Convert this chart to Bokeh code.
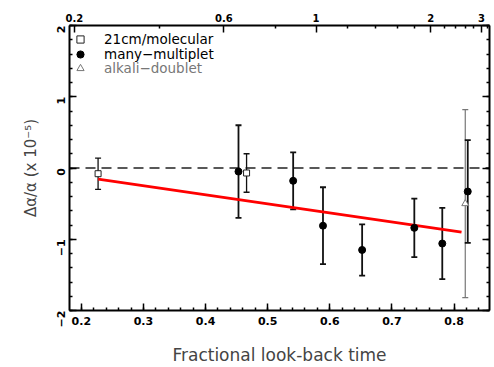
import math
from bokeh.plotting import figure
from bokeh.models import (Range1d, LinearAxis, SingleIntervalTicker, FixedTicker,
                          Whisker, ColumnDataSource, Span, Legend, LegendItem, TeeHead)
from bokeh.embed import file_html
from bokeh.resources import INLINE

# ---- data ----
mol_x = [0.227, 0.466]
mol_y = [-0.08, -0.07]
mol_err = [0.22, 0.27]

mm_x = [0.453, 0.541, 0.589, 0.652, 0.736, 0.781, 0.822]
mm_y = [-0.05, -0.18, -0.81, -1.15, -0.84, -1.06, -0.33]
mm_err = [0.65, 0.40, 0.54, 0.36, 0.41, 0.50, 0.72]

alk_x = [0.818]
alk_y = [-0.50]
alk_err = [1.32]

fit_x = [0.227, 0.812]
fit_y = [-0.156, -0.90]

# top axis: redshift labels at look-back-time positions
top_major_pos = [0.189, 0.4296, 0.5778, 0.7625, 0.8441]
top_major_lab = ["0.2", "0.6", "1", "2", "3"]
top_minor_pos = [0.3266, 0.5129, 0.6288, 0.6728, 0.7089, 0.7367,
                 0.785, 0.8027, 0.818, 0.8317, 0.8538]

FONT = "DejaVu Sans"

p = figure(width=494, height=367, output_backend="svg", toolbar_location=None,
           x_range=Range1d(0.181, 0.857), y_range=Range1d(-2, 2),
           min_border_left=69, min_border_right=5, min_border_top=25,
           min_border_bottom=57)
p.outline_line_color = None
p.xgrid.visible = False
p.ygrid.visible = False
p.background_fill_color = "white"
p.border_fill_color = "white"


def style_axis(ax):
    ax.axis_line_width = 2
    ax.axis_line_color = "black"
    ax.major_tick_in = 7
    ax.major_tick_out = 0
    ax.minor_tick_in = 3
    ax.minor_tick_out = 0
    ax.major_tick_line_width = 1.5
    ax.minor_tick_line_width = 1.5
    ax.major_tick_line_color = "black"
    ax.minor_tick_line_color = "black"
    ax.major_label_text_font = FONT
    ax.major_label_text_font_style = "bold"
    ax.major_label_text_font_size = "11px"
    ax.major_label_text_color = "black"


# bottom axis
xa = p.xaxis[0]
xa.ticker = SingleIntervalTicker(interval=0.1, num_minor_ticks=5)
style_axis(xa)
xa.major_label_standoff = 6
xa.axis_label = "Fractional look-back time"
xa.axis_label_text_font = FONT
xa.axis_label_text_font_style = "normal"
xa.axis_label_text_font_size = "17px"
xa.axis_label_standoff = 17

# left axis
ya = p.yaxis[0]
ya.ticker = SingleIntervalTicker(interval=1, num_minor_ticks=5)
style_axis(ya)
ya.major_label_orientation = math.pi / 2
ya.major_label_overrides = {-2: "\u22122", -1: "\u22121"}
ya.major_label_standoff = 9
ya.axis_label = "\u0394\u03b1/\u03b1 (x 10\u207b\u2075)"
ya.axis_label_text_font = FONT
ya.axis_label_text_font_style = "normal"
ya.axis_label_text_font_size = "15px"
ya.axis_label_standoff = 10

# right axis (ticks only)
ra = LinearAxis(ticker=SingleIntervalTicker(interval=1, num_minor_ticks=5))
style_axis(ra)
ra.major_label_overrides = {-2: "", -1: "", 0: "", 1: "", 2: ""}
ra.major_label_standoff = 0
p.add_layout(ra, "right")

# top axis (redshift)
ta = LinearAxis(ticker=FixedTicker(ticks=top_major_pos, minor_ticks=top_minor_pos))
style_axis(ta)
ta.major_label_text_font_size = "10px"
ta.major_label_overrides = {pos: lab for pos, lab in zip(top_major_pos, top_major_lab)}
ta.major_label_standoff = 4
p.add_layout(ta, "above")

# zero line
p.add_layout(Span(location=0, dimension="width", line_color="#222222",
                  line_width=1.5, line_dash="10 6", level="underlay"))


def errbars(xs, ys, errs, color, width):
    src = ColumnDataSource(dict(x=xs, lo=[y - e for y, e in zip(ys, errs)],
                                hi=[y + e for y, e in zip(ys, errs)]))
    w = Whisker(source=src, base="x", lower="lo", upper="hi", dimension="height",
                line_color=color, line_width=width, level="underlay",
                lower_head=TeeHead(size=6, line_color=color, line_width=width),
                upper_head=TeeHead(size=6, line_color=color, line_width=width))
    p.add_layout(w)


errbars(alk_x, alk_y, alk_err, "#777777", 1.2)
errbars(mol_x, mol_y, mol_err, "#111111", 1.3)
errbars(mm_x, mm_y, mm_err, "#111111", 1.8)

# fit line
p.line(fit_x, fit_y, line_color="red", line_width=3)

r_mol = p.scatter(mol_x, mol_y, marker="square", size=6, fill_color="white",
                  line_color="#222222", line_width=1)
r_mm = p.scatter(mm_x, mm_y, marker="circle", size=7, fill_color="black",
                 line_color="black")
r_alk = p.scatter(alk_x, alk_y, marker="triangle", size=7, fill_color="white",
                  line_color="#777777", line_width=1)

# legend rows
legend_rows = [("21cm/molecular", r_mol, "black", 262),
               ("many\u2212multiplet", r_mm, "black", 247.5),
               ("alkali\u2212doublet", r_alk, "#777777", 233)]
for lab, rend, col, yb in legend_rows:
    lg = Legend(items=[LegendItem(label=lab, renderers=[rend])],
                location=(2, yb), border_line_alpha=0, background_fill_alpha=0,
                padding=0, margin=0, glyph_width=18, glyph_height=18,
                label_standoff=15, label_height=10, label_text_font=FONT,
                label_text_font_size="13.5px", label_text_color=col)
    p.add_layout(lg)

open("out.html", "w").write(file_html(p, INLINE))
